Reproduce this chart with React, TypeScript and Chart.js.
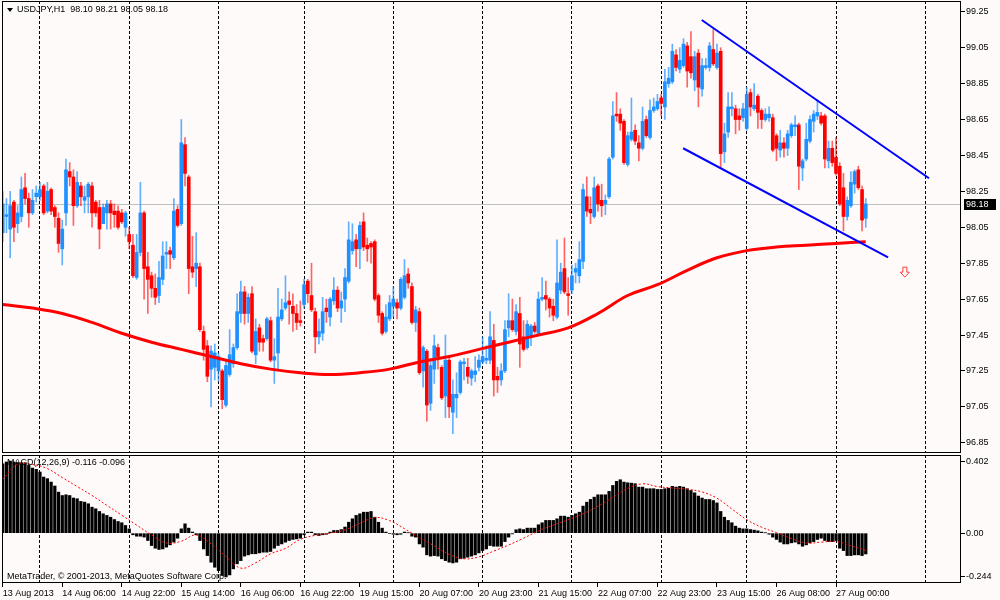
import React, { useEffect, useRef } from 'react';
import { Chart, registerables } from 'chart.js';

Chart.register(...registerables);

const FONT = '"Liberation Sans", Arial, sans-serif';

// USDJPY H1, bar 0 = 13 Aug 2013 14:00
const opens = [
  98.02, 98.11, 98.04, 98.19, 98.07, 98.11, 98.27, 98.21, 98.13, 98.22,
  98.22, 98.28, 98.14, 98.26, 98.16, 98.10, 97.93, 98.13, 98.36, 98.33,
  98.17, 98.28, 98.20, 98.22, 98.28, 98.19, 98.16, 98.07, 98.13, 98.18,
  98.14, 98.14, 98.13, 98.05, 98.01, 97.95, 97.77, 97.91, 98.13, 97.83,
  97.78, 97.71, 97.67, 97.76, 97.90, 97.92, 97.88, 98.15, 98.07, 98.51,
  98.33, 97.83, 97.82, 97.83, 97.47, 97.39, 97.26, 97.27, 97.25, 97.25,
  97.06, 97.23, 97.29, 97.38, 97.57, 97.69, 97.57, 97.68, 97.34, 97.49,
  97.43, 97.43, 97.53, 97.31, 97.35, 97.54, 97.60, 97.64, 97.61, 97.57,
  97.53, 97.62, 97.75, 97.67, 97.58, 97.44, 97.46, 97.60, 97.55, 97.64,
  97.70, 97.60, 97.65, 97.75, 97.92, 97.98, 97.93, 98.08, 97.95, 97.96,
  97.97, 97.67, 97.57, 97.47, 97.54, 97.61, 97.63, 97.60, 97.66, 97.79,
  97.72, 97.52, 97.58, 97.25, 97.36, 97.07, 97.26, 97.38, 97.27, 97.11,
  97.31, 97.02, 97.10, 97.13, 97.29, 97.27, 97.21, 97.23, 97.27, 97.30,
  97.31, 97.31, 97.42, 97.22, 97.20, 97.25, 97.49, 97.53, 97.47, 97.57,
  97.44, 97.38, 97.44, 97.50, 97.46, 97.65, 97.67, 97.65, 97.61, 97.55,
  97.70, 97.82, 97.68, 97.70, 97.80, 97.78, 97.86, 98.22, 98.15, 98.11,
  98.28, 98.20, 98.18, 98.22, 98.44, 98.68, 98.68, 98.64, 98.40, 98.54,
  98.59, 98.52, 98.49, 98.65, 98.55, 98.70, 98.71, 98.77, 98.72, 98.85,
  98.86, 99.01, 98.93, 98.95, 99.06, 99.00, 98.87, 99.02, 98.82, 98.94,
  98.94, 99.04, 98.94, 99.03, 98.47, 98.58, 98.71, 98.71, 98.67, 98.66,
  98.60, 98.80, 98.71, 98.78, 98.70, 98.65, 98.66, 98.66, 98.56, 98.48,
  98.52, 98.49, 98.56, 98.61, 98.62, 98.38, 98.43, 98.53, 98.64, 98.67,
  98.67, 98.67, 98.42, 98.49, 98.44, 98.39, 98.27, 98.11, 98.17, 98.29,
  98.37, 98.26, 98.10,
];
const highs = [
  98.25, 98.21, 98.25, 98.20, 98.17, 98.33, 98.35, 98.24, 98.26, 98.28,
  98.30, 98.29, 98.30, 98.27, 98.17, 98.13, 98.09, 98.43, 98.41, 98.37,
  98.36, 98.30, 98.28, 98.30, 98.30, 98.20, 98.20, 98.18, 98.20, 98.20,
  98.18, 98.17, 98.15, 98.14, 98.05, 98.01, 98.01, 98.30, 98.14, 97.91,
  97.80, 97.79, 97.86, 97.97, 97.97, 97.94, 98.21, 98.17, 98.65, 98.55,
  98.34, 98.00, 98.02, 97.85, 97.50, 97.42, 97.39, 97.40, 97.35, 97.26,
  97.31, 97.48, 97.40, 97.68, 97.75, 97.72, 97.68, 97.72, 97.54, 97.51,
  97.45, 97.55, 97.55, 97.43, 97.71, 97.65, 97.78, 97.69, 97.68, 97.62,
  97.64, 97.76, 97.76, 97.85, 97.60, 97.54, 97.66, 97.65, 97.66, 97.77,
  97.72, 97.69, 97.82, 98.08, 98.07, 98.01, 98.08, 98.13, 97.99, 97.97,
  97.98, 97.68, 97.58, 97.62, 97.67, 97.72, 97.65, 97.77, 97.87, 97.82,
  97.74, 97.61, 97.60, 97.39, 97.37, 97.32, 97.45, 97.40, 97.28, 97.45,
  97.32, 97.20, 97.24, 97.31, 97.32, 97.32, 97.26, 97.33, 97.34, 97.44,
  97.39, 97.58, 97.51, 97.27, 97.29, 97.53, 97.68, 97.65, 97.62, 97.66,
  97.53, 97.53, 97.51, 97.52, 97.69, 97.77, 97.75, 97.66, 97.65, 97.98,
  97.85, 97.99, 97.77, 97.84, 97.85, 97.97, 98.29, 98.33, 98.22, 98.33,
  98.29, 98.29, 98.23, 98.44, 98.75, 98.80, 98.71, 98.65, 98.58, 98.77,
  98.62, 98.56, 98.72, 98.67, 98.76, 98.77, 98.79, 98.79, 98.93, 98.94,
  99.07, 99.04, 99.05, 99.10, 99.08, 99.14, 99.03, 99.04, 98.99, 98.99,
  99.08, 99.15, 99.07, 99.05, 98.63, 98.80, 98.80, 98.73, 98.71, 98.74,
  98.83, 98.82, 98.85, 98.79, 98.71, 98.71, 98.72, 98.68, 98.57, 98.59,
  98.55, 98.59, 98.63, 98.67, 98.63, 98.43, 98.63, 98.67, 98.70, 98.76,
  98.69, 98.68, 98.53, 98.53, 98.55, 98.41, 98.35, 98.22, 98.36, 98.37,
  98.39, 98.28, 98.21,
];
const lows = [
  97.97, 98.02, 97.88, 97.97, 98.02, 98.08, 98.18, 98.05, 98.12, 98.19,
  98.20, 98.12, 98.13, 98.12, 98.05, 97.91, 97.84, 98.06, 98.28, 98.06,
  98.16, 98.17, 98.13, 98.13, 98.05, 98.11, 97.93, 98.07, 98.04, 98.04,
  98.05, 98.04, 98.07, 98.00, 97.93, 97.77, 97.76, 97.89, 97.65, 97.57,
  97.66, 97.62, 97.63, 97.73, 97.82, 97.82, 97.87, 98.05, 98.06, 98.28,
  97.68, 97.77, 97.72, 97.47, 97.31, 97.19, 97.05, 97.20, 97.19, 97.04,
  97.05, 97.22, 97.27, 97.37, 97.52, 97.51, 97.52, 97.35, 97.29, 97.36,
  97.36, 97.42, 97.30, 97.18, 97.25, 97.53, 97.59, 97.51, 97.47, 97.48,
  97.50, 97.60, 97.63, 97.58, 97.35, 97.40, 97.42, 97.52, 97.50, 97.62,
  97.58, 97.52, 97.58, 97.74, 97.90, 97.83, 97.82, 97.92, 97.86, 97.85,
  97.64, 97.52, 97.45, 97.46, 97.53, 97.55, 97.54, 97.59, 97.65, 97.71,
  97.51, 97.47, 97.23, 97.16, 96.97, 97.03, 97.18, 97.26, 97.09, 96.99,
  96.99, 96.90, 96.99, 97.12, 97.20, 97.18, 97.17, 97.19, 97.25, 97.29,
  97.29, 97.29, 97.11, 97.13, 97.17, 97.24, 97.44, 97.47, 97.45, 97.27,
  97.36, 97.37, 97.39, 97.46, 97.45, 97.64, 97.59, 97.55, 97.53, 97.54,
  97.68, 97.68, 97.56, 97.68, 97.74, 97.74, 97.82, 98.11, 98.07, 98.10,
  98.14, 98.11, 98.12, 98.21, 98.43, 98.64, 98.59, 98.40, 98.39, 98.53,
  98.51, 98.42, 98.48, 98.55, 98.54, 98.69, 98.70, 98.67, 98.65, 98.83,
  98.85, 98.92, 98.91, 98.94, 98.83, 98.88, 98.81, 98.72, 98.78, 98.93,
  98.92, 98.95, 98.93, 98.38, 98.41, 98.55, 98.67, 98.57, 98.59, 98.64,
  98.59, 98.67, 98.70, 98.60, 98.60, 98.64, 98.64, 98.47, 98.42, 98.44,
  98.44, 98.45, 98.55, 98.56, 98.26, 98.31, 98.42, 98.52, 98.58, 98.65,
  98.62, 98.38, 98.38, 98.39, 98.34, 98.17, 98.03, 98.09, 98.16, 98.24,
  98.26, 98.03, 98.05,
];
const closes = [
  98.18, 98.12, 98.17, 98.05, 98.13, 98.26, 98.21, 98.13, 98.20, 98.24,
  98.26, 98.13, 98.25, 98.14, 98.11, 97.96, 98.04, 98.37, 98.33, 98.17,
  98.30, 98.22, 98.22, 98.29, 98.13, 98.13, 98.04, 98.16, 98.18, 98.13,
  98.12, 98.05, 98.08, 98.13, 97.97, 97.78, 97.91, 98.13, 97.82, 97.76,
  97.71, 97.66, 97.77, 97.89, 97.91, 97.90, 98.14, 98.06, 98.52, 98.35,
  97.82, 97.80, 97.85, 97.48, 97.37, 97.22, 97.36, 97.35, 97.33, 97.09,
  97.28, 97.34, 97.38, 97.58, 97.69, 97.57, 97.66, 97.36, 97.47, 97.41,
  97.41, 97.54, 97.31, 97.33, 97.55, 97.59, 97.63, 97.62, 97.57, 97.52,
  97.52, 97.73, 97.68, 97.59, 97.44, 97.47, 97.58, 97.58, 97.65, 97.70,
  97.60, 97.64, 97.77, 97.98, 97.97, 97.93, 98.06, 97.94, 97.93, 97.94,
  97.65, 97.56, 97.46, 97.55, 97.63, 97.65, 97.60, 97.76, 97.78, 97.74,
  97.52, 97.59, 97.24, 97.38, 97.06, 97.28, 97.39, 97.33, 97.10, 97.31,
  97.05, 97.12, 97.12, 97.30, 97.30, 97.22, 97.25, 97.25, 97.31, 97.33,
  97.32, 97.44, 97.20, 97.20, 97.25, 97.48, 97.53, 97.48, 97.58, 97.40,
  97.37, 97.51, 97.50, 97.47, 97.65, 97.66, 97.65, 97.60, 97.56, 97.74,
  97.80, 97.69, 97.67, 97.78, 97.82, 97.87, 98.26, 98.14, 98.13, 98.27,
  98.18, 98.17, 98.20, 98.43, 98.67, 98.67, 98.63, 98.41, 98.56, 98.58,
  98.53, 98.49, 98.64, 98.56, 98.70, 98.72, 98.75, 98.74, 98.86, 98.88,
  99.03, 98.94, 98.98, 99.07, 98.92, 98.91, 99.00, 98.83, 98.95, 98.95,
  99.06, 98.96, 99.02, 98.46, 98.57, 98.72, 98.72, 98.65, 98.65, 98.71,
  98.79, 98.72, 98.73, 98.69, 98.65, 98.68, 98.68, 98.48, 98.49, 98.52,
  98.49, 98.57, 98.62, 98.62, 98.39, 98.42, 98.54, 98.65, 98.68, 98.69,
  98.63, 98.43, 98.49, 98.41, 98.35, 98.18, 98.11, 98.20, 98.30, 98.36,
  98.27, 98.09, 98.18,
];

// moving average, read every 8 bars
const maBars = [0, 8, 16, 24, 32, 40, 48, 56, 64, 72, 80, 88, 96, 104, 112, 120, 128, 136, 144, 152, 160, 168, 176, 184, 192, 200, 208, 216, 224, 232];
const maValues = [97.62, 97.60, 97.57, 97.52, 97.46, 97.41, 97.37, 97.33, 97.29, 97.26, 97.24, 97.23, 97.24, 97.26, 97.30, 97.33, 97.37, 97.41, 97.45, 97.49, 97.57, 97.67, 97.73, 97.81, 97.88, 97.92, 97.94, 97.95, 97.96, 97.97];

// channel drawn on the chart (bar index, price)
const upperChannelBars = [187.9, 249];
const upperChannelPrices = [99.204, 98.323];
const lowerChannelBars = [182.9, 238];
const lowerChannelPrices = [98.49, 97.883];
const arrowBars = [242.5];
const arrowPrices = [97.8];

const macdHist = [
  0.387, 0.397, 0.402, 0.397, 0.393, 0.393, 0.393, 0.378, 0.363, 0.356,
  0.341, 0.313, 0.304, 0.285, 0.263, 0.229, 0.210, 0.214, 0.210, 0.196,
  0.192, 0.177, 0.173, 0.164, 0.145, 0.136, 0.121, 0.108, 0.099, 0.089,
  0.076, 0.065, 0.058, 0.043, 0.024, -0.009, -0.017, -0.017, -0.022, -0.041,
  -0.069, -0.084, -0.091, -0.088, -0.078, -0.065, -0.050, -0.028, 0.024, 0.052,
  0.028, 0.006, -0.009, -0.041, -0.088, -0.125, -0.162, -0.190, -0.209, -0.236,
  -0.244, -0.233, -0.199, -0.171, -0.153, -0.128, -0.121, -0.115, -0.115, -0.110,
  -0.106, -0.106, -0.102, -0.084, -0.069, -0.060, -0.050, -0.041, -0.035, -0.032,
  -0.028, -0.009, 0.006, 0.006, -0.009, -0.013, -0.009, -0.006, 0.006, 0.015,
  0.015, 0.020, 0.034, 0.061, 0.080, 0.099, 0.108, 0.117, 0.117, 0.121,
  0.089, 0.061, 0.028, 0.006, -0.003, -0.006, -0.009, -0.006, 0.006, 0.002,
  -0.017, -0.022, -0.060, -0.078, -0.121, -0.128, -0.125, -0.128, -0.143, -0.153,
  -0.162, -0.166, -0.162, -0.143, -0.140, -0.134, -0.128, -0.121, -0.110, -0.097,
  -0.088, -0.069, -0.073, -0.073, -0.073, -0.047, -0.022, -0.004, 0.019, 0.024,
  0.020, 0.028, 0.028, 0.028, 0.047, 0.058, 0.071, 0.071, 0.071, 0.080,
  0.095, 0.095, 0.089, 0.099, 0.108, 0.117, 0.151, 0.173, 0.188, 0.201,
  0.214, 0.214, 0.214, 0.233, 0.266, 0.289, 0.298, 0.285, 0.281, 0.279,
  0.276, 0.257, 0.257, 0.248, 0.248, 0.248, 0.244, 0.244, 0.248, 0.251,
  0.261, 0.257, 0.261, 0.257, 0.248, 0.238, 0.225, 0.207, 0.196, 0.188,
  0.188, 0.182, 0.169, 0.121, 0.089, 0.071, 0.058, 0.039, 0.028, 0.024,
  0.024, 0.020, 0.017, 0.013, 0.006, 0.002, -0.006, -0.022, -0.035, -0.050,
  -0.060, -0.060, -0.054, -0.050, -0.060, -0.073, -0.065, -0.054, -0.047, -0.035,
  -0.028, -0.041, -0.047, -0.047, -0.041, -0.084, -0.097, -0.125, -0.125, -0.121,
  -0.121, -0.125, -0.116,
];
const signalBars = [0, 4, 8, 12, 16, 20, 24, 28, 32, 36, 40, 44, 48, 52, 56, 60, 64, 68, 72, 76, 80, 84, 88, 92, 96, 100, 104, 108, 112, 116, 120, 124, 128, 132, 136, 140, 144, 148, 152, 156, 160, 164, 168, 172, 176, 180, 184, 188, 192, 196, 200, 204, 208, 212, 216, 220, 224, 228, 232];
const signalValues = [0.300, 0.385, 0.383, 0.360, 0.310, 0.260, 0.210, 0.155, 0.100, 0.045, -0.010, -0.055, -0.045, -0.010, -0.060, -0.130, -0.195, -0.165, -0.115, -0.085, -0.035, -0.012, 0.000, 0.018, 0.055, 0.087, 0.070, 0.025, -0.025, -0.072, -0.118, -0.143, -0.132, -0.100, -0.066, -0.028, 0.012, 0.045, 0.075, 0.108, 0.150, 0.200, 0.250, 0.275, 0.260, 0.252, 0.245, 0.230, 0.195, 0.135, 0.075, 0.033, 0.003, -0.030, -0.055, -0.050, -0.047, -0.070, -0.096];

const dayStartBars = [10, 34, 58, 81, 105, 129, 153, 177, 200, 224, 248];
const timeLabelBars = [0, 16, 32, 48, 64, 80, 96, 112, 128, 144, 160, 176, 192, 208, 224];
const timeLabels = ['13 Aug 2013', '14 Aug 06:00', '14 Aug 22:00', '15 Aug 14:00', '16 Aug 06:00', '16 Aug 22:00', '19 Aug 15:00', '20 Aug 07:00', '20 Aug 23:00', '21 Aug 15:00', '22 Aug 07:00', '22 Aug 23:00', '23 Aug 15:00', '26 Aug 08:00', '27 Aug 00:00'];
const priceTicks = [99.25, 99.05, 98.85, 98.65, 98.45, 98.25, 98.05, 97.85, 97.65, 97.45, 97.25, 97.05, 96.85];
const macdTicks = [0.402, 0, -0.244];

const X_MIN = -0.2;
const X_MAX = 257.6;

const BULL = '#1e90ff';
const BEAR = '#ff0000';
const BULL_WICK = 'rgba(30,144,255,0.7)';
const BEAR_WICK = 'rgba(255,0,0,0.6)';

const last = closes.length - 1;

const framePlugin = {
  id: 'frame',
  afterDraw(chart: any) {
    const { ctx, chartArea: a } = chart;
    ctx.save();
    ctx.strokeStyle = '#000';
    ctx.lineWidth = 1;
    ctx.strokeRect(a.left + 0.5, a.top + 0.5, a.right - a.left - 1, a.bottom - a.top - 1);
    ctx.restore();
  },
};

const pricePlugin = {
  id: 'priceExtras',
  beforeDatasetsDraw(chart: any) {
    const { ctx, chartArea: a } = chart;
    const y = Math.round(chart.scales.y.getPixelForValue(closes[last])) + 0.5;
    ctx.save();
    ctx.strokeStyle = '#c0c0c0';
    ctx.lineWidth = 1;
    ctx.beginPath();
    ctx.moveTo(a.left, y);
    ctx.lineTo(a.right, y);
    ctx.stroke();
    ctx.restore();
  },
  afterDatasetsDraw(chart: any) {
    const { ctx } = chart;
    const x = chart.scales.x.getPixelForValue(arrowBars[0]);
    const y = chart.scales.y.getPixelForValue(arrowPrices[0]);
    ctx.save();
    ctx.beginPath();
    ctx.moveTo(x - 2, y - 5);
    ctx.lineTo(x + 2, y - 5);
    ctx.lineTo(x + 2, y);
    ctx.lineTo(x + 4.5, y);
    ctx.lineTo(x, y + 5);
    ctx.lineTo(x - 4.5, y);
    ctx.lineTo(x - 2, y);
    ctx.closePath();
    ctx.fillStyle = '#fffafa';
    ctx.fill();
    ctx.strokeStyle = '#ff3c3c';
    ctx.lineWidth = 1;
    ctx.stroke();
    ctx.restore();
  },
  afterDraw(chart: any) {
    const { ctx, chartArea: a } = chart;
    const y = Math.round(chart.scales.y.getPixelForValue(closes[last]));
    ctx.save();
    ctx.fillStyle = '#000';
    ctx.fillRect(a.right + 3, y - 5, 32, 11);
    ctx.fillStyle = '#fff';
    ctx.font = `9px ${FONT}`;
    ctx.textBaseline = 'middle';
    ctx.fillText(closes[last].toFixed(2), a.right + 5, y + 0.5);
    // header
    ctx.fillStyle = '#000';
    ctx.beginPath();
    ctx.moveTo(a.left + 5, a.top + 7);
    ctx.lineTo(a.left + 11, a.top + 7);
    ctx.lineTo(a.left + 8, a.top + 11);
    ctx.closePath();
    ctx.fill();
    const head = `USDJPY,H1  ${opens[last].toFixed(2)} ${highs[last].toFixed(2)} ${lows[last].toFixed(2)} ${closes[last].toFixed(2)}`;
    ctx.fillText(head, a.left + 15, a.top + 9);
    ctx.restore();
  },
};

const macdTextPlugin = {
  id: 'macdText',
  afterDraw(chart: any) {
    const { ctx, chartArea: a } = chart;
    ctx.save();
    ctx.fillStyle = '#000';
    ctx.font = `9px ${FONT}`;
    ctx.textBaseline = 'middle';
    ctx.fillText(`MACD(12,26,9) ${macdHist[last].toFixed(3)} ${signalValues[signalValues.length - 1].toFixed(3)}`, a.left + 5, a.top + 8);
    ctx.fillText('MetaTrader, \u00a9 2001-2013, MetaQuotes Software Corp.', a.left + 5, a.bottom - 6);
    ctx.restore();
  },
};

const dayGridAxis = {
  type: 'linear',
  min: X_MIN,
  max: X_MAX,
  offset: false,
  position: 'bottom',
  afterBuildTicks: (s: any) => {
    s.ticks = dayStartBars.map((v) => ({ value: v }));
  },
  afterFit: (s: any) => {
    s.height = 0;
    s.paddingLeft = 0;
    s.paddingRight = 0;
  },
  ticks: { display: false },
  grid: { color: '#000', lineWidth: 1, drawTicks: false, offset: false },
  border: { display: false, dash: [3, 2] },
};

function rightAxis(min: number, max: number, values: number[], fmt: (v: number) => string) {
  return {
    type: 'linear',
    position: 'right',
    min,
    max,
    afterBuildTicks: (s: any) => {
      s.ticks = values.map((v) => ({ value: v }));
    },
    afterFit: (s: any) => {
      s.width = 39;
      s.paddingTop = 0;
      s.paddingBottom = 0;
    },
    ticks: { color: '#000', font: { family: FONT, size: 9 }, padding: 1, callback: (v: any) => fmt(Number(v)) },
    grid: { drawOnChartArea: false, drawTicks: true, tickLength: 4, color: '#000' },
    border: { display: false },
  };
}

export default function App() {
  const mainRef = useRef<HTMLCanvasElement>(null);
  const macdRef = useRef<HTMLCanvasElement>(null);

  useEffect(() => {
    if (!mainRef.current || !macdRef.current) return;

    const bull = closes.map((c, i) => c >= opens[i]);

    const mainChart = new Chart(mainRef.current, {
      type: 'bar',
      data: {
        datasets: [
          {
            type: 'line',
            data: upperChannelBars.map((b, k) => ({ x: b, y: upperChannelPrices[k] })),
            borderColor: '#0000ff',
            borderWidth: 2,
            pointRadius: 0,
            order: 0,
          },
          {
            type: 'line',
            data: lowerChannelBars.map((b, k) => ({ x: b, y: lowerChannelPrices[k] })),
            borderColor: '#0000ff',
            borderWidth: 2,
            pointRadius: 0,
            order: 0,
          },
          {
            type: 'line',
            data: maBars.map((b, k) => ({ x: b, y: maValues[k] })),
            borderColor: '#ff0000',
            borderWidth: 3,
            tension: 0.4,
            pointRadius: 0,
            order: 1,
          },
          {
            type: 'bar',
            data: closes.map((c, i) => ({ x: i, y: [opens[i], c] })),
            backgroundColor: bull.map((b) => (b ? BULL : BEAR)),
            barThickness: 3,
            minBarLength: 1,
            grouped: false,
            order: 2,
          },
          {
            type: 'bar',
            data: closes.map((_, i) => ({ x: i, y: [lows[i], highs[i]] })),
            backgroundColor: bull.map((b) => (b ? BULL_WICK : BEAR_WICK)),
            barThickness: 1,
            grouped: false,
            order: 3,
          },
        ] as any,
      },
      options: {
        animation: false,
        responsive: false,
        events: [],
        layout: { padding: { left: 2, top: 1, right: 0, bottom: 2 } },
        plugins: { legend: { display: false }, tooltip: { enabled: false } },
        scales: {
          x: dayGridAxis as any,
          y: rightAxis(96.793, 99.31, priceTicks, (v) => v.toFixed(2)) as any,
        },
      },
      plugins: [framePlugin, pricePlugin],
    });

    const macdChart = new Chart(macdRef.current, {
      type: 'bar',
      data: {
        datasets: [
          {
            type: 'line',
            data: signalBars.map((b, k) => ({ x: b, y: signalValues[k] })),
            borderColor: '#ff0000',
            borderWidth: 1,
            borderDash: [2, 2],
            tension: 0.4,
            pointRadius: 0,
            order: 0,
          },
          {
            type: 'bar',
            data: macdHist.map((v, i) => ({ x: i, y: v })),
            backgroundColor: '#000',
            barThickness: 2.6,
            grouped: false,
            order: 1,
          },
        ] as any,
      },
      options: {
        animation: false,
        responsive: false,
        events: [],
        layout: { padding: { left: 2, top: 2, right: 0, bottom: 0 } },
        plugins: { legend: { display: false }, tooltip: { enabled: false } },
        scales: {
          x: dayGridAxis as any,
          xl: {
            type: 'linear',
            position: 'bottom',
            min: X_MIN,
            max: X_MAX,
            offset: false,
            afterBuildTicks: (s: any) => {
              s.ticks = timeLabelBars.map((v) => ({ value: v }));
            },
            afterFit: (s: any) => {
              s.height = 17;
              s.paddingLeft = 0;
              s.paddingRight = 0;
            },
            ticks: {
              align: 'start',
              autoSkip: false,
              maxRotation: 0,
              minRotation: 0,
              padding: 1,
              color: '#000',
              font: { family: FONT, size: 9 },
              callback: (v: any) => timeLabels[timeLabelBars.indexOf(Number(v))] ?? '',
            },
            grid: { drawOnChartArea: false, drawTicks: true, tickLength: 4, color: '#000', offset: false },
            border: { display: false },
          } as any,
          y: rightAxis(-0.278, 0.436, macdTicks, (v) => (v === 0 ? '0.00' : v.toFixed(3))) as any,
        },
      },
      plugins: [framePlugin, macdTextPlugin],
    });

    return () => {
      mainChart.destroy();
      macdChart.destroy();
    };
  }, []);

  return (
    <div style={{ position: 'absolute', left: 0, top: 0, width: 1000, height: 600, background: '#fffafa' }}>
      <canvas ref={mainRef} width={1000} height={455} style={{ position: 'absolute', left: 0, top: 0, width: 1000, height: 455 }} />
      <canvas ref={macdRef} width={1000} height={147} style={{ position: 'absolute', left: 0, top: 453, width: 1000, height: 147 }} />
    </div>
  );
}
